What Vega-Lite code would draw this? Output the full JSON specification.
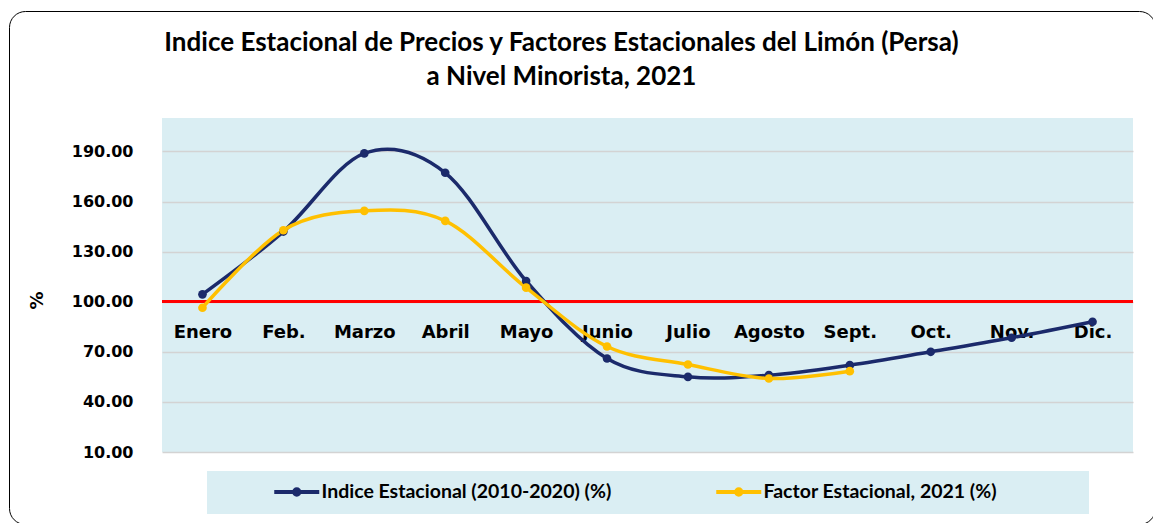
{
  "$schema": "https://vega.github.io/schema/vega-lite/v6.json",
  "width": 971,
  "height": 334,
  "autosize": "none",
  "padding": {"left": 162, "top": 118, "right": 20, "bottom": 71},
  "background": "white",
  "title": {
    "text": ["Indice Estacional de Precios y Factores Estacionales del Limón (Persa)", "a Nivel Minorista, 2021"],
    "font": "Lato", "fontSize": 26, "fontWeight": "bold", "color": "#000000",
    "anchor": "middle", "dx": -86, "offset": -79, "lineHeight": 34
  },
  "config": {
    "view": {"fill": "#DAEEF3", "stroke": null}
  },
  "data": {"values": [
    {"mes": "Enero", "serie": "Indice Estacional (2010-2020) (%)", "valor": 104.4},
    {"mes": "Feb.", "serie": "Indice Estacional (2010-2020) (%)", "valor": 142.0},
    {"mes": "Marzo", "serie": "Indice Estacional (2010-2020) (%)", "valor": 188.8},
    {"mes": "Abril", "serie": "Indice Estacional (2010-2020) (%)", "valor": 177.2},
    {"mes": "Mayo", "serie": "Indice Estacional (2010-2020) (%)", "valor": 112.4},
    {"mes": "Junio", "serie": "Indice Estacional (2010-2020) (%)", "valor": 66.0},
    {"mes": "Julio", "serie": "Indice Estacional (2010-2020) (%)", "valor": 55.0},
    {"mes": "Agosto", "serie": "Indice Estacional (2010-2020) (%)", "valor": 56.0},
    {"mes": "Sept.", "serie": "Indice Estacional (2010-2020) (%)", "valor": 62.0},
    {"mes": "Oct.", "serie": "Indice Estacional (2010-2020) (%)", "valor": 70.0},
    {"mes": "Nov.", "serie": "Indice Estacional (2010-2020) (%)", "valor": 78.4},
    {"mes": "Dic.", "serie": "Indice Estacional (2010-2020) (%)", "valor": 88.0},
    {"mes": "Enero", "serie": "Factor Estacional, 2021 (%)", "valor": 96.4},
    {"mes": "Feb.", "serie": "Factor Estacional, 2021 (%)", "valor": 142.8},
    {"mes": "Marzo", "serie": "Factor Estacional, 2021 (%)", "valor": 154.4},
    {"mes": "Abril", "serie": "Factor Estacional, 2021 (%)", "valor": 148.4},
    {"mes": "Mayo", "serie": "Factor Estacional, 2021 (%)", "valor": 108.4},
    {"mes": "Junio", "serie": "Factor Estacional, 2021 (%)", "valor": 73.2},
    {"mes": "Julio", "serie": "Factor Estacional, 2021 (%)", "valor": 62.4},
    {"mes": "Agosto", "serie": "Factor Estacional, 2021 (%)", "valor": 54.0},
    {"mes": "Sept.", "serie": "Factor Estacional, 2021 (%)", "valor": 58.4}
  ]},
  "layer": [
    {
      "mark": {"type": "rule", "color": "#FF0000", "strokeWidth": 2.5},
      "encoding": {"y": {"datum": 100, "type": "quantitative", "scale": {"domain": [10, 210]}}}
    },
    {
      "mark": {"type": "line", "interpolate": "cardinal", "strokeWidth": 3.5},
      "encoding": {
        "x": {"field": "mes", "type": "nominal",
          "sort": ["Enero", "Feb.", "Marzo", "Abril", "Mayo", "Junio", "Julio", "Agosto", "Sept.", "Oct.", "Nov.", "Dic."],
          "scale": {"type": "point", "padding": 0.5},
          "axis": {"title": null, "orient": "bottom", "offset": -150, "domain": false, "ticks": false, "grid": false,
            "labelFont": "DejaVu Sans", "labelFontWeight": "bold", "labelFontSize": 18, "labelColor": "#000000",
            "labelBaseline": "middle", "labelPadding": 30, "labelAngle": 0}},
        "y": {"field": "valor", "type": "quantitative", "scale": {"domain": [10, 210], "nice": false},
          "axis": {"title": "%", "values": [10, 40, 70, 100, 130, 160, 190], "format": ".2f", "domain": false, "ticks": false,
            "grid": true, "gridColor": "#D3D3D3", "gridWidth": 1.5,
            "labelFont": "DejaVu Sans", "labelFontWeight": "bold", "labelFontSize": 16, "labelColor": "#000000", "labelPadding": 29,
            "titleFont": "DejaVu Sans", "titleFontSize": 18, "titleFontWeight": "bold", "titleColor": "#000000", "titlePadding": 25, "titleY": 182}},
        "color": {"field": "serie", "type": "nominal",
          "scale": {"domain": ["Indice Estacional (2010-2020) (%)", "Factor Estacional, 2021 (%)"], "range": ["#1B2A6B", "#FFC000"]},
          "legend": {"title": "\u00a0", "titleOrient": "right", "titlePadding": 81, "orient": "none", "legendX": 45, "legendY": 353, "direction": "horizontal",
            "fillColor": "#DAEEF3", "padding": 11, "columnPadding": 48,
            "symbolType": "M-3,0H3M0.36,0A0.36,0.36,0,1,1,-0.36,0A0.36,0.36,0,1,1,0.36,0",
            "symbolSize": 225, "symbolStrokeWidth": 4, "symbolOffset": 69,
            "labelFont": "Lato", "labelFontSize": 19.5, "labelFontWeight": "bold", "labelColor": "#000000", "labelOffset": 15, "labelLimit": 400}}
      }
    },
    {
      "mark": {"type": "point", "filled": true, "size": 75, "opacity": 1, "strokeWidth": 0},
      "encoding": {
        "x": {"field": "mes", "type": "nominal",
          "sort": ["Enero", "Feb.", "Marzo", "Abril", "Mayo", "Junio", "Julio", "Agosto", "Sept.", "Oct.", "Nov.", "Dic."]},
        "y": {"field": "valor", "type": "quantitative"},
        "color": {"field": "serie", "type": "nominal"},
        "stroke": {"field": "valor", "type": "quantitative", "scale": {"range": ["rgba(0,0,0,0)", "rgba(0,0,0,0)"]},
          "legend": {"title": null, "orient": "none", "legendX": -153, "legendY": -107, "direction": "horizontal",
            "gradientLength": 1146, "gradientThickness": 512, "gradientStrokeWidth": 0, "gradientStrokeColor": "rgba(0,0,0,0)",
            "tickCount": 1, "labelOpacity": 0, "labelFontSize": 1, "labelOffset": 0, "labelExpr": "''",
            "padding": 0, "strokeColor": "#000000", "cornerRadius": 16, "fillColor": "rgba(0,0,0,0)",
            "encode": {"legend": {"enter": {"strokeWidth": {"value": 3}}, "update": {"strokeWidth": {"value": 3}}}}}}
      }
    }
  ]
}
